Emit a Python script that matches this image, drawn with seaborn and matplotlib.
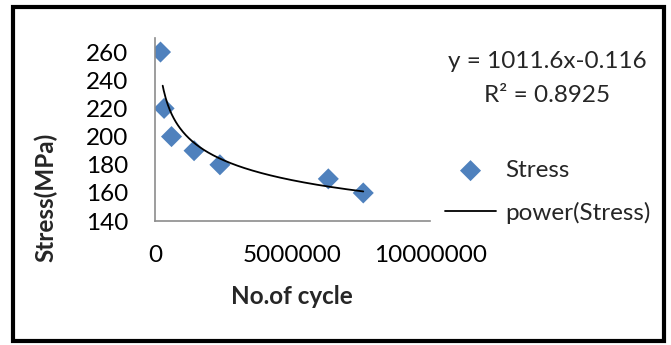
import numpy as np
import pandas as pd
import matplotlib
matplotlib.use("Agg")
import matplotlib.pyplot as plt
import seaborn as sns
from matplotlib.patches import Rectangle

# values
cycles = [200000, 330000, 600000, 1420000, 2360000, 6300000, 7570000]
stress = [260, 220, 200, 190, 180, 170, 160]
# Excel power trendline: y = a * x^b
coef_a = 1011.6
coef_b = -0.116
r_squared = 0.8925

df = pd.DataFrame({"cycles": cycles, "stress": stress})
xs = np.linspace(min(cycles) * 1.4, max(cycles), 200)
trend = pd.DataFrame({"cycles": xs, "stress": coef_a * xs ** coef_b})

sns.set_theme(style="white")
plt.rcParams["font.family"] = ["Lato", "DejaVu Sans"]
fs = 17.5

fig = plt.figure(figsize=(6.71, 3.45), dpi=100)
ax = fig.add_axes([0.231, 0.359, 0.41, 0.531])

sns.scatterplot(data=df, x="cycles", y="stress", marker="D", s=115,
                color="#4F81BD", edgecolor="none", ax=ax, label="Stress", zorder=2)
sns.lineplot(data=trend, x="cycles", y="stress", color="black", lw=1.3,
             ax=ax, label="power(Stress)", zorder=3)

ax.set_xlim(0, 10000000)
ax.set_ylim(140, 270)
ax.set_xticks([0, 5000000, 10000000])
ax.set_xticklabels(["0", "5000000", "10000000"])
ax.set_yticks(range(140, 261, 20))
ax.tick_params(axis="both", length=0, labelsize=fs, colors="black")
ax.tick_params(axis="y", pad=19)
ax.tick_params(axis="x", pad=17)
for side in ["top", "right"]:
    ax.spines[side].set_visible(False)
for side in ["left", "bottom"]:
    ax.spines[side].set_color("#8c8c8c")
    ax.spines[side].set_linewidth(1.2)
ax.set_xlabel("")
ax.set_ylabel("")
ax.get_legend().remove()

fig.text(46 / 671, 1 - 197 / 345, "Stress(MPa)", rotation=90, fontsize=fs,
         fontweight="bold", ha="center", va="center")
fig.text(292 / 671, 1 - 297 / 345, "No.of cycle", fontsize=fs,
         fontweight="bold", ha="center", va="center")

fig.text(547 / 671, 1 - 62 / 345, f"y = {coef_a}x{coef_b}", fontsize=fs,
         ha="center", va="center")
fig.text(547 / 671, 1 - 95 / 345, f"R² = {r_squared}", fontsize=fs,
         ha="center", va="center")

handles, labels = ax.get_legend_handles_labels()
fig.legend(handles, labels, loc="upper left", bbox_to_anchor=(445 / 671, 1 - 160 / 345),
           frameon=False, fontsize=fs, handlelength=2.1, handletextpad=0.36,
           labelspacing=0.85, borderpad=0, borderaxespad=0)

fig.patches.append(Rectangle((13 / 671, 4 / 345), 651 / 671, 334 / 345,
                             transform=fig.transFigure, fill=False,
                             edgecolor="black", lw=3))

fig.savefig("out.png", dpi=100, facecolor="white")
